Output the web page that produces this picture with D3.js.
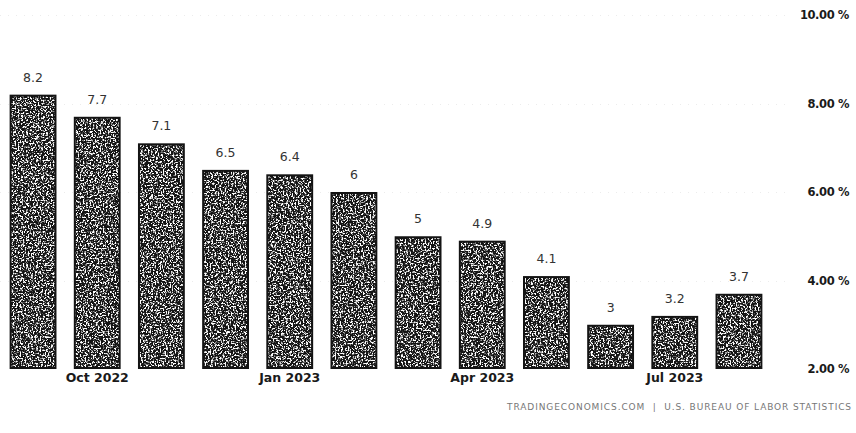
<!DOCTYPE html>
<html>
<head>
<meta charset="utf-8">
<script src="https://cdn.jsdelivr.net/npm/d3@7"></script>
<style>
  html, body { margin: 0; padding: 0; background: #fff; }
  svg { display: block; }
</style>
</head>
<body>
<svg id="chart" width="856" height="433"></svg>
<script>
// US inflation rate, year over year (%)
const months = ["Sep 2022", "Oct 2022", "Nov 2022", "Dec 2022", "Jan 2023", "Feb 2023",
                "Mar 2023", "Apr 2023", "May 2023", "Jun 2023", "Jul 2023", "Aug 2023"];
const rates = [8.2, 7.7, 7.1, 6.5, 6.4, 6, 5, 4.9, 4.1, 3, 3.2, 3.7];
const rateLabels = ["8.2", "7.7", "7.1", "6.5", "6.4", "6", "5", "4.9", "4.1", "3", "3.2", "3.7"];
const yTicks = [2, 4, 6, 8, 10];
const xTickMonths = ["Oct 2022", "Jan 2023", "Apr 2023", "Jul 2023"];
const xTickLabels = ["Oct 2022", "Jan 2023", "Apr 2023", "Jul 2023"];
const sourceNote = "TRADINGECONOMICS.COM  |  U.S. BUREAU OF LABOR STATISTICS";

const svg = d3.select("#chart");

const x = d3.scaleBand().domain(months).range([0, 772])
  .paddingInner(0.27).paddingOuter(0.15);
const y = d3.scaleLinear().domain([2, 10]).range([369, 15]);

// speckled fill for the bars
const defs = svg.append("defs");
const f = defs.append("filter").attr("id", "speckle")
  .attr("x", 0).attr("y", 0).attr("width", 1).attr("height", 1)
  .attr("filterUnits", "objectBoundingBox");
f.append("feTurbulence").attr("type", "fractalNoise")
  .attr("baseFrequency", 0.6).attr("numOctaves", 2).attr("seed", 4).attr("result", "noise");
f.append("feColorMatrix").attr("in", "noise").attr("type", "matrix")
  .attr("values", "0 0 0 0 1  0 0 0 0 1  0 0 0 0 1  7 0 0 0 -3.42").attr("result", "dots");
f.append("feComposite").attr("in", "dots").attr("in2", "SourceAlpha").attr("operator", "in");

// faint dotted gridlines
svg.append("g").selectAll("line").data(yTicks.slice(1)).join("line")
  .attr("x1", 0).attr("x2", 792)
  .attr("y1", d => Math.round(y(d)) + 0.5).attr("y2", d => Math.round(y(d)) + 0.5)
  .attr("stroke", "#ececec").attr("stroke-width", 1)
  .attr("stroke-dasharray", "1,7");

// bars
const bars = svg.append("g");
bars.selectAll("rect.base").data(rates).join("rect").attr("class", "base")
  .attr("x", (d, i) => x(months[i]))
  .attr("y", d => y(d))
  .attr("width", x.bandwidth())
  .attr("height", d => y(2) - y(d))
  .attr("fill", "#141414");
bars.selectAll("rect.grain").data(rates).join("rect").attr("class", "grain")
  .attr("x", (d, i) => x(months[i]) + 2)
  .attr("y", d => y(d) + 2)
  .attr("width", x.bandwidth() - 4)
  .attr("height", d => y(2) - y(d) - 4)
  .attr("fill", "#eeeeee")
  .attr("filter", "url(#speckle)");

// value labels
svg.append("g").selectAll("text").data(rates).join("text")
  .attr("x", (d, i) => x(months[i]) + x.bandwidth() / 2)
  .attr("y", d => y(d) - 13)
  .attr("text-anchor", "middle")
  .attr("font-family", "DejaVu Sans, sans-serif")
  .attr("font-size", 12.5)
  .attr("fill", "#333")
  .text((d, i) => rateLabels[i]);

// x axis labels
const xAxis = d3.axisBottom(x).tickValues(xTickMonths)
  .tickFormat((d, i) => xTickLabels[i]).tickSize(0).tickPadding(0);
const gx = svg.append("g").attr("transform", `translate(0, ${y(2) + 4})`).call(xAxis);
gx.select(".domain").remove();
gx.selectAll("text")
  .attr("dy", "0.71em")
  .attr("font-family", "DejaVu Sans, sans-serif")
  .attr("font-size", 12.5)
  .attr("font-weight", "bold")
  .attr("fill", "#1a1a1a");

// y axis labels on the right
const yAxis = d3.axisRight(y).tickValues(yTicks)
  .tickFormat(d => d3.format(".2f")(d) + " %").tickSize(0).tickPadding(0);
const gy = svg.append("g").attr("transform", "translate(849, 0)").call(yAxis);
gy.select(".domain").remove();
gy.selectAll("text")
  .attr("text-anchor", "end")
  .attr("x", 0)
  .attr("font-family", "DejaVu Sans, sans-serif")
  .attr("font-size", 11.5)
  .attr("font-weight", "bold")
  .attr("letter-spacing", -0.4)
  .attr("fill", "#1a1a1a");

// source note
svg.append("text")
  .attr("x", 852).attr("y", 410)
  .attr("text-anchor", "end")
  .attr("font-family", "DejaVu Sans, sans-serif")
  .attr("font-size", 9)
  .attr("letter-spacing", 0.9)
  .attr("fill", "#777")
  .attr("xml:space", "preserve")
  .style("white-space", "pre")
  .text(sourceNote);
</script>
</body>
</html>
